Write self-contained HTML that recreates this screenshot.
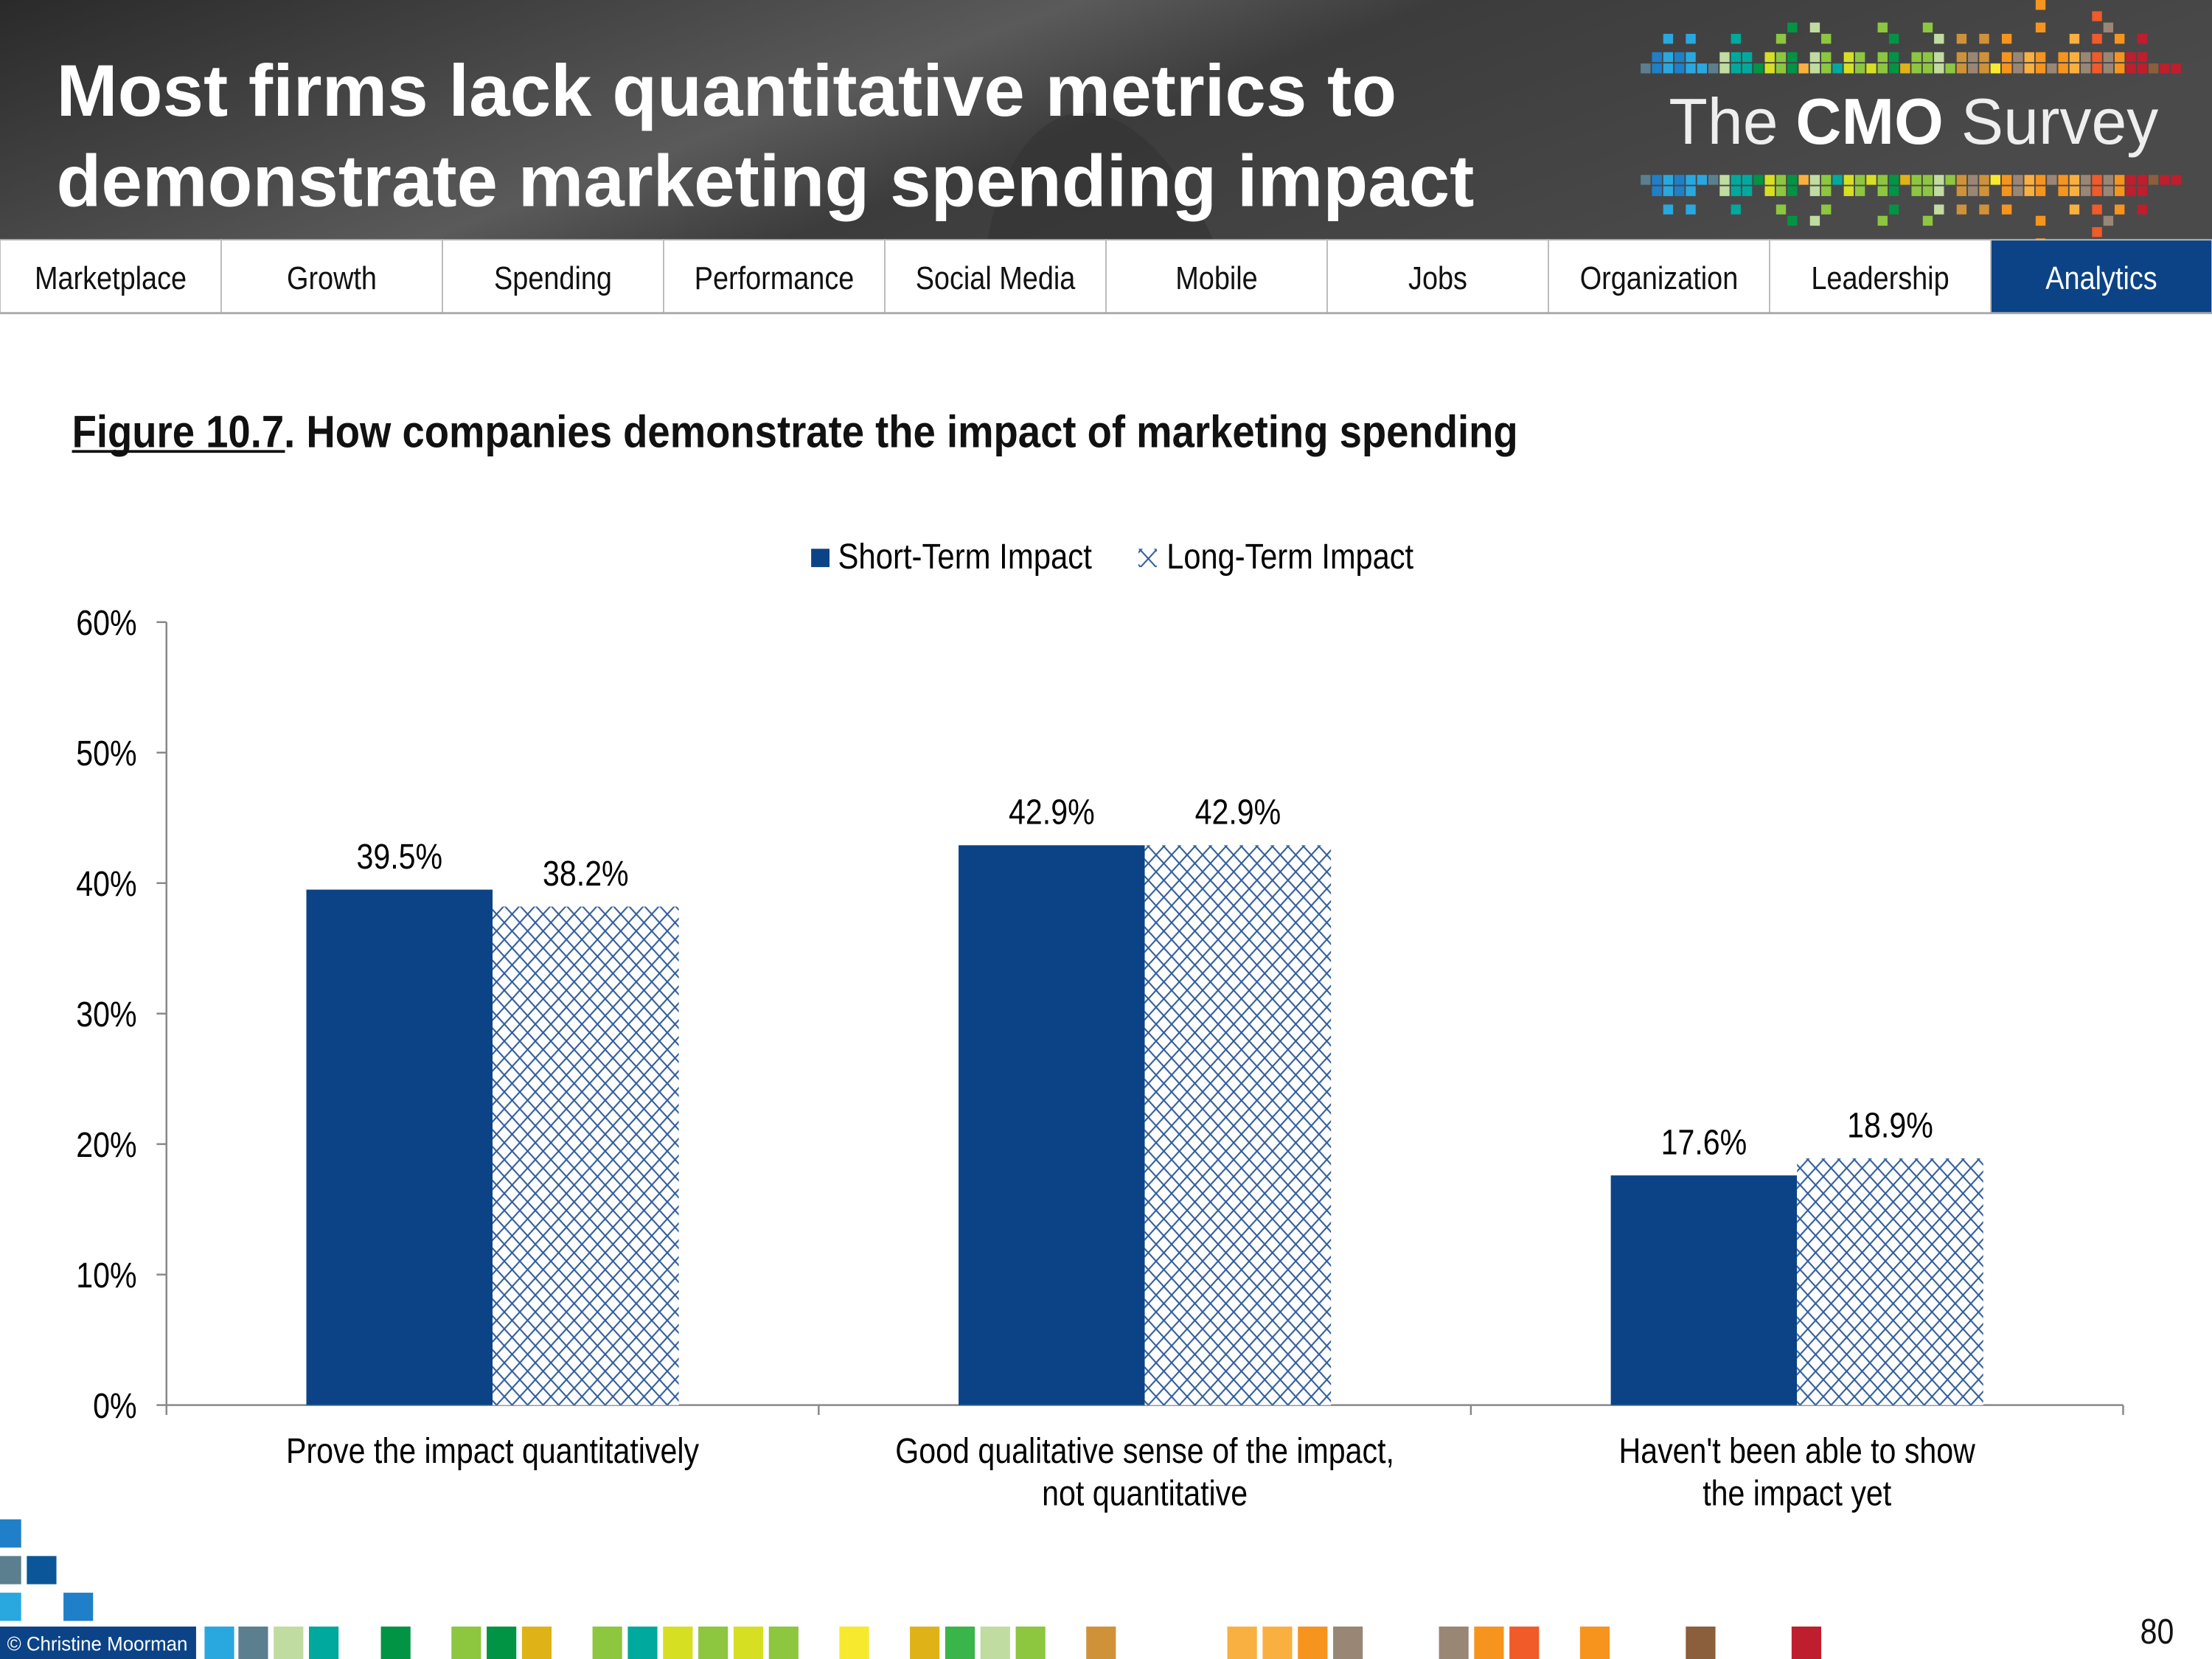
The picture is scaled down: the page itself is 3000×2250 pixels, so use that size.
<!DOCTYPE html>
<html><head><meta charset="utf-8"><style>
html,body{margin:0;padding:0;background:#fff}
svg{display:block}
text{font-family:"Liberation Sans",sans-serif}
</style></head><body>
<svg id="root" width="3000" height="2250" viewBox="0 0 1568 1176" preserveAspectRatio="none" xmlns="http://www.w3.org/2000/svg">
<defs>
<linearGradient id="hdr" x1="0" y1="0" x2="1" y2="0.3">
<stop offset="0" stop-color="#2a2a2a"/><stop offset="0.25" stop-color="#444"/><stop offset="0.45" stop-color="#5a5a5a"/><stop offset="0.6" stop-color="#3c3c3c"/><stop offset="1" stop-color="#4a4a4a"/>
</linearGradient>
<pattern id="lattice" patternUnits="userSpaceOnUse" width="11" height="12" x="0" y="0">
<rect width="11" height="12" fill="#fff"/>
<path d="M0,0 L11,12 M11,0 L0,12" stroke="#2f5c9c" stroke-width="1.1" fill="none"/>
</pattern>
</defs>
<rect x="0" y="0" width="1568" height="170" fill="url(#hdr)"/>
<path d="M700,170 C720,60 800,40 860,170 Z" fill="#303030" opacity="0.5"/>
<text x="40" y="82" fill="#fff" font-size="52" font-weight="bold" textLength="950" lengthAdjust="spacingAndGlyphs">Most firms lack quantitative metrics to</text>
<text x="40" y="146" fill="#fff" font-size="52" font-weight="bold" textLength="1005" lengthAdjust="spacingAndGlyphs">demonstrate marketing spending impact</text>
<g id="logo">
<text x="1183" y="102" fill="#fff" font-size="46" textLength="347" lengthAdjust="spacingAndGlyphs"><tspan fill="#eee">The </tspan><tspan font-weight="bold">CMO</tspan><tspan fill="#eee"> Survey</tspan></text>
</g>
<g id="nav"></g>
<line x1="0" y1="222" x2="1568" y2="222" stroke="#aaa" stroke-width="1.5"/>

<text x="51" y="317" font-size="32" font-weight="bold" fill="#111" textLength="1025" lengthAdjust="spacingAndGlyphs">Figure 10.7. How companies demonstrate the impact of marketing spending</text>
<line x1="51" y1="320" x2="202" y2="320" stroke="#111" stroke-width="2"/>

<g>
<rect x="575" y="389" width="13" height="13" fill="#0b4386"/>
<text x="594" y="403" font-size="25" fill="#000" textLength="180" lengthAdjust="spacingAndGlyphs">Short-Term Impact</text>
<rect x="807" y="389" width="13" height="13" fill="url(#lattice)"/>
<text x="827" y="403" font-size="25" fill="#000" textLength="175" lengthAdjust="spacingAndGlyphs">Long-Term Impact</text>
</g>
<g id="chart"></g>
<g id="footer"></g>
</svg>
<script>
const categories = [["Prove the impact quantitatively"],["Good qualitative sense of the impact,","not quantitative"],["Haven't been able to show","the impact yet"]];
const shortTerm = [39.5, 42.9, 17.6];
const longTerm = [38.2, 42.9, 18.9];
const yTicks = [0,10,20,30,40,50,60];
const navItems = ["Marketplace","Growth","Spending","Performance","Social Media","Mobile","Jobs","Organization","Leadership","Analytics"];

const NS="http://www.w3.org/2000/svg";
const SX=0.86;
function mk(tag, attrs, parent){const e=document.createElementNS(NS,tag);for(const k in attrs)e.setAttribute(k,attrs[k]);parent.appendChild(e);return e;}
function ntext(x,y,anchor,size,fill,parent){
  return mk('text',{x:0,y:0,transform:'translate('+x+','+y+') scale('+SX+',1)','text-anchor':anchor,'font-size':size,fill:fill},parent);
}
const chart=document.getElementById('chart');
const X0=118,X1=1505,Y0=996,Y60=441;
const yScale=v=>Y0-(v/60)*(Y0-Y60);
const catW=(X1-X0)/categories.length;
const barW=132;

let ax=mk('line',{x1:X0,y1:Y60,x2:X0,y2:Y0,stroke:'#888','stroke-width':1.3},chart);


yTicks.forEach(t=>{
  const y=yScale(t);
  const tk=mk('line',{x1:X0-7,y1:y,x2:X0,y2:y,stroke:'#888','stroke-width':1.3},chart);
  
  
  const lb=ntext(97,y+9,'end',25,'#000',chart);
  
  
  lb.textContent=t+'%';
});
let xa=mk('line',{x1:X0,y1:Y0,x2:X1,y2:Y0,stroke:'#888','stroke-width':1.3},chart);


for(let i=0;i<=categories.length;i++){
  const x=X0+i*catW;
  const tk=mk('line',{x1:x,y1:Y0,x2:x,y2:Y0+7,stroke:'#888','stroke-width':1.3},chart);
  
  
}
categories.forEach((c,i)=>{
  const cx=X0+catW*(i+0.5);
  const vals=[[shortTerm[i],'#0b4386','short-term'],[longTerm[i],'url(#lattice)','long-term']];
  vals.forEach((v,j)=>{
    const x=cx-barW+j*barW, y=yScale(v[0]);
    const r=mk('rect',{x:x,y:y,width:barW,height:Y0-y,fill:v[1]},chart);
    
    
    const t=ntext(x+barW/2,y-15,'middle',25,'#000',chart);
    
    
    t.textContent=v[0].toFixed(1)+'%';
  });
  c.forEach((line,k)=>{
    const t=ntext(cx,1037+k*30,'middle',25,'#000',chart);
    
    
    t.textContent=line;
  });
});

const nav=document.getElementById('nav');
const tabW=1568/navItems.length;
navItems.forEach((n,i)=>{
  const active=n==='Analytics';
  const r=mk('rect',{x:i*tabW,y:170,width:tabW,height:52,fill:active?'#0b4386':'#fff',stroke:'#bbb','stroke-width':1},nav);
  
  
  const t=ntext(i*tabW+tabW/2,205,'middle',23,active?'#fff':'#111',nav);
  
  
  t.textContent=n;
});

const logo=document.getElementById('logo');
const pal=['#5b7f8f','#1f7fc8','#29a8e0','#1f7fc8','#29a8e0','#29a8e0','#5b7f8f','#c0dca0','#00a99d','#00a99d','#009444','#d7df23','#8dc63f','#009444','#f9b040','#c0dca0','#8dc63f','#00a99d','#d7df23','#8dc63f','#d7df23','#8dc63f','#009444','#dfb317','#8dc63f','#8dc63f','#c0dca0','#8dc63f','#d09238','#998675','#d09238','#f7e92d','#f7941d','#998675','#f9b040','#f7941d','#998675','#f7941d','#f9b040','#998675','#f15a29','#998675','#f7941d','#be1e2d','#be1e2d','#8b5e3c','#be1e2d','#be1e2d'];
const heights=[0,2,3,1,2,0,0,1,3,2,0,1,2,4,0,3,2,0,1,2,0,3,2,0,1,4,2,0,2,1,2,0,3,2,1,5,0,2,3,2,4,3,2,1,3,0,0,0];
pal.forEach((c,i)=>{
  const x=1163+i*8;
  mk('rect',{x:x,y:45,width:7,height:7,fill:c},logo);
  mk('rect',{x:x,y:124,width:7,height:7,fill:c},logo);
  for(let k=1;k<=heights[i];k++){
    if((i+k)%2===0||k===1){
      mk('rect',{x:x,y:45-k*8-(k>1?5:0),width:7,height:7,fill:c},logo);
      mk('rect',{x:x,y:124+k*8+(k>1?5:0),width:7,height:7,fill:c},logo);
    }
  }
});

const ft=document.getElementById('footer');
[[0,1077,'#1f7fc8'],[0,1103,'#5b7f8f'],[19,1103,'#0b5699'],[0,1129,'#29a8e0'],[45,1129,'#1f7fc8']].forEach(s=>mk('rect',{x:s[0],y:s[1],width:s[0]===0?15:21,height:20,fill:s[2]},ft));
const cr=mk('rect',{x:0,y:1153,width:139,height:23,fill:'#0b4386'},ft);


const ct=mk('text',{x:5,y:1170,'font-size':14,fill:'#fff',textLength:128,lengthAdjust:'spacingAndGlyphs'},ft);


ct.textContent='© Christine Moorman';
[[145,'#29a8e0'],[169,'#5b7f8f'],[194,'#c0dca0'],[219,'#00a99d'],[270,'#009444'],[320,'#8dc63f'],[345,'#009444'],[370,'#dfb317'],[420,'#8dc63f'],[445,'#00a99d'],[470,'#d7df23'],[495,'#8dc63f'],[520,'#d7df23'],[545,'#8dc63f'],[595,'#f7e92d'],[645,'#dfb317'],[670,'#39b54a'],[695,'#c0dca0'],[720,'#8dc63f'],[770,'#d09238'],[870,'#f9b040'],[895,'#f9b040'],[920,'#f7941d'],[945,'#998675'],[1020,'#998675'],[1045,'#f7941d'],[1070,'#f15a29'],[1120,'#f7941d'],[1195,'#8b5e3c'],[1270,'#be1e2d']].forEach(s=>mk('rect',{x:s[0],y:1153,width:21,height:23,fill:s[1]},ft));
const pn=ntext(1541,1165,'end',25,'#111',ft);


pn.textContent='80';
</script>
</body></html>
